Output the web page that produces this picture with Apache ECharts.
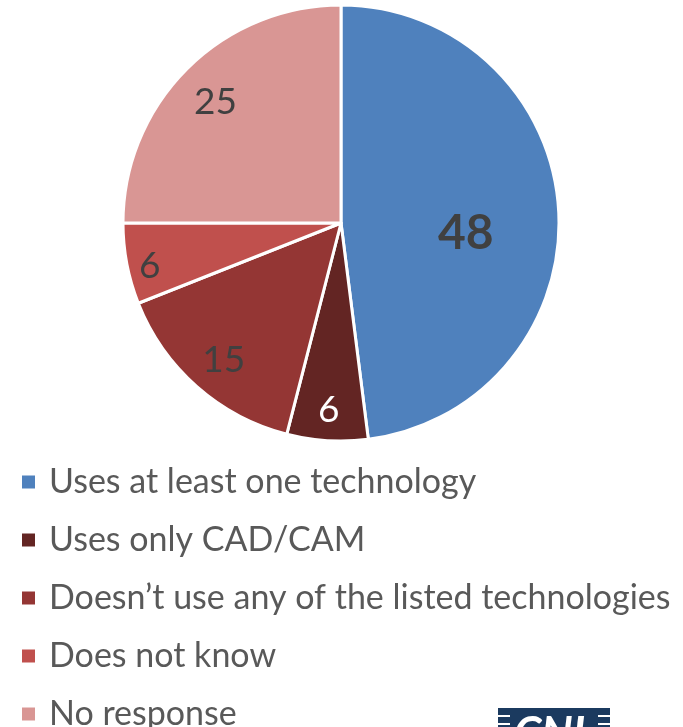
<!DOCTYPE html>
<html><head><meta charset="utf-8">
<script src="https://cdn.jsdelivr.net/npm/echarts@6/dist/echarts.min.js"></script>
<style>html,body{margin:0;padding:0;background:#fff}#c{width:683px;height:727px}</style>
</head><body><div id="c"></div>
<script>
const categories = ["Uses at least one technology","Uses only CAD/CAM","Doesn\u2019t use any of the listed technologies","Does not know","No response"];
const values = [48, 6, 15, 6, 25];
const colors = ["#4F81BD","#632523","#943634","#C0504D","#D99694"];
const labelColors = ["#404040","#FFFFFF","#404040","#404040","#404040"];
// radial placement group for each label (index into ringSets) and small vertical nudges
const labelRing = [0, 2, 1, 2, 1];
const labelDy = [18, -7, 4, 7, 5];
const ringSets = [0.12, 0.60, 0.76];

const FONT = "Lato, 'Liberation Sans', sans-serif";
const chart = echarts.init(document.getElementById('c'));
const R = 218;
const center = [341, 223];

const series = [{
  type: 'pie', radius: R, center: center, startAngle: 90, clockwise: true,
  label: {show: false}, labelLine: {show: false}, silent: true,
  itemStyle: {borderColor: '#fff', borderWidth: 3},
  data: categories.map((n, i) => ({name: n, value: values[i], itemStyle: {color: colors[i]}}))
}];
ringSets.forEach((inner, ri) => {
  series.push({
    type: 'pie', radius: [R * inner, R], center: center, startAngle: 90, clockwise: true,
    silent: true, legendHoverLink: false,
    itemStyle: {color: 'rgba(0,0,0,0)', borderWidth: 0},
    labelLine: {show: false},
    labelLayout: function (p) { return {dy: labelDy[p.dataIndex]}; },
    data: categories.map((n, i) => ({
      name: n, value: values[i],
      label: {
        show: labelRing[i] === ri, position: 'inside',
        formatter: String(values[i]),
        color: labelColors[i], fontFamily: FONT,
        fontSize: i === 0 ? 48 : 37, fontWeight: i === 0 ? 'bold' : 'normal'
      }
    }))
  });
});

chart.setOption({
  animation: false,
  color: colors,
  legend: {
    orient: 'vertical', left: 20, top: 465, height: 320, padding: 0,
    data: categories,
    icon: 'rect', itemWidth: 15, itemHeight: 15, itemGap: 24,
    textStyle: {fontFamily: FONT, fontSize: 34, color: '#595959', lineHeight: 34, padding: [0, 0, 0, 8]},
    selectedMode: false
  },
  graphic: [
    {type: 'rect', shape: {x: 498, y: 708, width: 112, height: 20}, style: {fill: '#1B3A5F'}},
    {type: 'rect', shape: {x: 498, y: 715, width: 12, height: 2}, style: {fill: '#fff'}},
    {type: 'rect', shape: {x: 498, y: 723, width: 12, height: 2}, style: {fill: '#fff'}},
    {type: 'rect', shape: {x: 598, y: 715, width: 12, height: 2}, style: {fill: '#fff'}},
    {type: 'rect', shape: {x: 598, y: 723, width: 12, height: 2}, style: {fill: '#fff'}},
    {type: 'text', left: 514, top: 712, style: {text: 'CNI', fill: '#fff', font: 'italic bold 44px ' + FONT}}
  ],
  series: series
});
</script></body></html>
